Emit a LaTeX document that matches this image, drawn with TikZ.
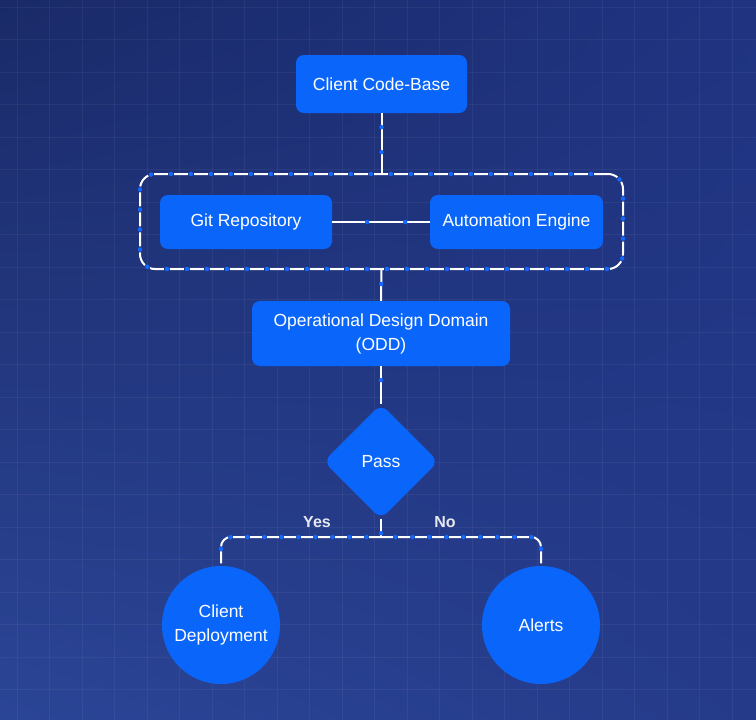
\documentclass[tikz,border=0pt]{standalone}
\usepackage{fontspec}
\setmainfont{Liberation Sans}
\usetikzlibrary{shapes.geometric,shadings}
\definecolor{nodeblue}{HTML}{0A66FA}
\definecolor{dotblue}{HTML}{1268FF}
\definecolor{bgA}{HTML}{1A2A68}
\definecolor{bgB}{HTML}{1F3381}
\definecolor{bgC}{HTML}{2B4596}
\definecolor{bgD}{HTML}{253B8A}
\definecolor{labelc}{HTML}{E6E8F0}
\begin{document}
\begin{tikzpicture}[x=1pt,y=-1pt,
  txt/.style={text=white, font=\fontsize{17.5}{24}\selectfont, align=center},
  box/.style={txt, rectangle, rounded corners=8pt, fill=nodeblue, inner sep=0pt},
  decision/.style={txt, diamond, aspect=1, rounded corners=9pt, fill=nodeblue, inner sep=0pt, minimum width=115pt, minimum height=115pt},
  endpoint/.style={txt, circle, fill=nodeblue, inner sep=0pt, minimum size=118pt},
  solidflow/.style={draw=white, line width=2pt, postaction={draw=dotblue, line width=4.5pt, line cap=round, dash pattern=on 0pt off 25pt, dash phase=11pt}},
  dashflow/.style={draw=white, line width=2pt, dash pattern=on 12pt off 5pt, postaction={draw=dotblue, line width=4.5pt, line cap=round, dash pattern=on 0pt off 17pt, dash phase=2.5pt}},
  groupbox/.style={draw=white, line width=2pt, rounded corners=15pt, dash pattern=on 14pt off 6pt, postaction={draw=dotblue, line width=4.5pt, line cap=round, dash pattern=on 0pt off 20pt, dash phase=3pt}},
  branchlabel/.style={text=labelc, font=\bfseries\fontsize{16}{18}\selectfont},
  gridline/.style={draw=white, opacity=0.05, line width=1pt}
]
\useasboundingbox (0,0) rectangle (756,720);
% background
\shade[upper left=bgA, upper right=bgB, lower left=bgC, lower right=bgD] (0,0) rectangle (756,720);
\foreach \i in {0,...,23} {\draw[gridline] (17+32.5*\i,0) -- (17+32.5*\i,720);}
\foreach \i in {0,...,22} {\draw[gridline] (0,7+32.5*\i) -- (756,7+32.5*\i);}

% nodes
\node[groupbox, minimum width=483pt, minimum height=95pt] (grp) at (381.5,221.5) {};
\node[box, minimum width=171pt, minimum height=58pt] (ccb) at (381.5,84) {Client Code-Base};
\node[box, minimum width=172pt, minimum height=54pt] (git) at (246,222) {Git Repository};
\node[box, minimum width=173pt, minimum height=54pt] (auto) at (516.5,222) {Automation Engine};
\node[box, minimum width=258pt, minimum height=65pt] (odd) at (381,333.5) {Operational Design Domain\\(ODD)};
\node[decision] (pass) at (381,461.5) {Pass};
\node[endpoint] (cd) at (221,625) {Client\\Deployment};
\node[endpoint] (alerts) at (541,625) {Alerts};
\coordinate (junc) at (381,537);

% connectors
\path[solidflow] (ccb.south) -- (grp.north);
\path[draw=white, line width=2pt, postaction={draw=dotblue, line width=4.5pt, line cap=round, dash pattern=on 0pt off 38pt, dash phase=3pt}] (git.east) -- (auto.west);
\path[solidflow] (grp.south) -- (odd.north);
\path[solidflow] (odd.south) -- (pass.north);
\path[solidflow] (pass.south) -- (junc);
\path[dashflow, rounded corners=10pt] (junc) -| (cd.north);
\path[dashflow, rounded corners=10pt] (junc) -| (alerts.north);

% labels
\node[branchlabel] (yes) at (317,522) {Yes};
\node[branchlabel] (no) at (445,522) {No};
\end{tikzpicture}
\end{document}
